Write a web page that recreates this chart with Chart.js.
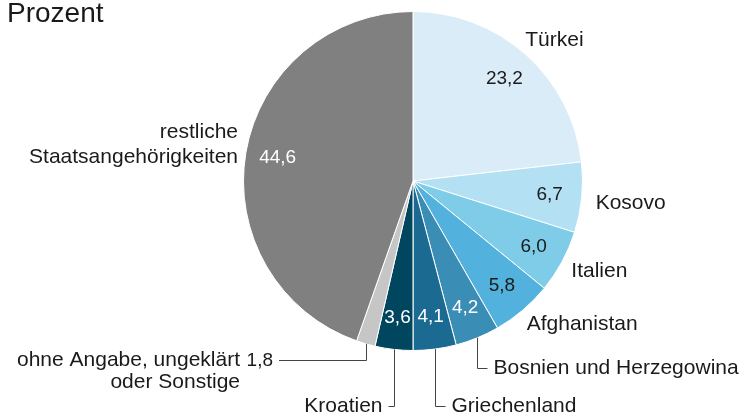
<!DOCTYPE html>
<html>
<head>
<meta charset="utf-8">
<script src="https://cdn.jsdelivr.net/npm/chart.js@4"></script>
<style>
  html, body { margin: 0; padding: 0; background: #fff; }
  #wrap { position: relative; width: 747px; height: 417px; }
  #title { position: absolute; left: 7px; top: -3px; font: 28px "Liberation Sans", Arial, sans-serif; color: #1a1a1a; }
</style>
</head>
<body>
<div id="wrap">
  <canvas id="pie" width="747" height="417"></canvas>
  <div id="title">Prozent</div>
</div>
<script>
const categories = [
  ["Türkei"],
  ["Kosovo"],
  ["Italien"],
  ["Afghanistan"],
  ["Bosnien und Herzegowina"],
  ["Griechenland"],
  ["Kroatien"],
  ["ohne Angabe, ungeklärt", "oder Sonstige"],
  ["restliche", "Staatsangehörigkeiten"]
];
const values = [23.2, 6.7, 6.0, 5.8, 4.2, 4.1, 3.6, 1.8, 44.6];
const colors = ["#d9ecf8", "#b3e0f2", "#7ecce8", "#52b2dd", "#3a8db4", "#1b6a91", "#00465f", "#c6c6c6", "#808080"];
const valueColors = ["#1a1a1a", "#1a1a1a", "#1a1a1a", "#1a1a1a", "#ffffff", "#ffffff", "#ffffff", null, "#ffffff"];

// how each name label is placed
const labelLayout = [
  { mode: "out", dx: -10, dy: -4 },
  { mode: "out", dx: 0, dy: 4 },
  { mode: "out", dx: -3, dy: 3 },
  { mode: "out", dx: -5, dy: 3 },
  { mode: "leader", downTo: 368, dir: 1, len: 10 },
  { mode: "leader", downTo: 406, dir: 1, len: 10 },
  { mode: "leader", downTo: 406, dir: -1, len: 6 },
  { mode: "leaderValue", downTo: 360, endX: 279 },
  { mode: "left", dx: 0, dy: -5 }
];

const FONT = '"Liberation Sans", Arial, sans-serif';
const TEXT = "#1a1a1a";

function fmt(v) {
  return v.toFixed(1).replace(".", ",");
}

const labelPlugin = {
  id: "pieLabels",
  afterDatasetsDraw(chart) {
    const ctx = chart.ctx;
    const meta = chart.getDatasetMeta(0);
    ctx.save();
    meta.data.forEach(function (arc, i) {
      const p = arc.getProps(["x", "y", "startAngle", "endAngle", "outerRadius"], true);
      const mid = (p.startAngle + p.endAngle) / 2;
      const cos = Math.cos(mid), sin = Math.sin(mid);
      const r = p.outerRadius;

      // value inside slice
      if (valueColors[i]) {
        ctx.font = "19px " + FONT;
        ctx.fillStyle = valueColors[i];
        ctx.textAlign = "center";
        ctx.textBaseline = "middle";
        ctx.fillText(fmt(values[i]), p.x + cos * r * 0.81, p.y + sin * r * 0.81);
      }

      const lay = labelLayout[i];
      const lines = categories[i];
      ctx.font = "21px " + FONT;
      ctx.fillStyle = TEXT;
      ctx.textBaseline = "middle";
      ctx.strokeStyle = "#444";
      ctx.lineWidth = 1;

      if (lay.mode === "out" || lay.mode === "left") {
        const lx = p.x + cos * (r + 14) + lay.dx;
        const ly = p.y + sin * (r + 14) + lay.dy;
        ctx.textAlign = lay.mode === "out" ? "left" : "right";
        const ax = lay.mode === "out" ? lx : p.x + cos * (r + 8);
        const y0 = ly - (lines.length - 1) * 12.5;
        lines.forEach(function (t, k) {
          ctx.fillText(t, ax, y0 + k * 25);
        });
      } else {
        const ex = Math.round(p.x + cos * r) + 0.5;
        const ey = p.y + sin * r;
        const ty = lay.downTo + 0.5;
        const hx = lay.mode === "leaderValue" ? lay.endX : ex + lay.dir * lay.len;
        ctx.beginPath();
        ctx.moveTo(ex, ey);
        ctx.lineTo(ex, ty);
        ctx.lineTo(hx, ty);
        ctx.stroke();
        if (lay.mode === "leader") {
          ctx.textAlign = lay.dir > 0 ? "left" : "right";
          ctx.fillText(lines[0], hx + lay.dir * 6, ty);
        } else {
          ctx.textAlign = "right";
          ctx.font = "19px " + FONT;
          ctx.fillText(fmt(values[i]), hx - 6, ty);
          ctx.font = "21px " + FONT;
          ctx.fillText(lines[0], hx - 39, ty);
          ctx.fillText(lines[1], hx - 39, ty + 22);
        }
      }
    });
    ctx.restore();
  }
};

new Chart(document.getElementById("pie").getContext("2d"), {
  type: "pie",
  data: {
    labels: categories.map(function (c) { return c.join(" "); }),
    datasets: [{
      data: values,
      backgroundColor: colors,
      borderColor: "#ffffff",
      borderWidth: 1
    }]
  },
  options: {
    responsive: false,
    animation: false,
    layout: {
      padding: { left: 243, right: 164, top: 11, bottom: 66 }
    },
    plugins: {
      legend: { display: false },
      tooltip: { enabled: false }
    }
  },
  plugins: [labelPlugin]
});
</script>
</body>
</html>
